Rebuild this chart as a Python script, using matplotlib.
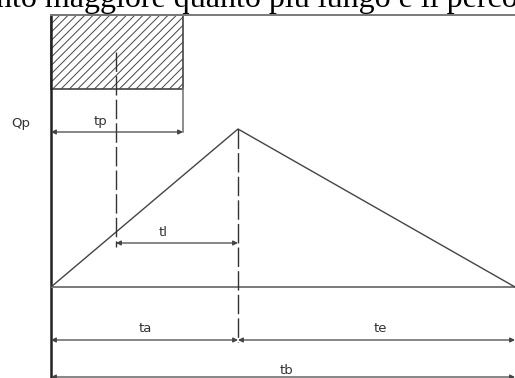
import matplotlib
matplotlib.use("Agg")
import matplotlib.pyplot as plt
from matplotlib.patches import Rectangle

# ── Dati (unità: tempo t, portata q; q=0 sulla linea di base) ────────────────
hydro_t = [0, 187, 464]          # inizio, picco, fine idrogramma
hydro_q = [0, 158, 0]
rain_t = [0, 132]                 # durata pioggia tp
rain_q = [198, 272]               # fascia del pluviogramma
centroid_t = 65                   # baricentro pioggia
labels = ["Qp", "tp", "tl", "ta", "te", "tb"]
label_t = [-30, 49, 112, 94, 329, 236]
label_q = [163, 165, 54, -42, -42, -84]

LINE = "#444444"
GRAY = "#7a7a7a"

plt.rcParams["hatch.linewidth"] = 0.7
plt.rcParams["hatch.color"] = "#555555"

fig = plt.figure(figsize=(5.15, 3.78), dpi=100)
ax = fig.add_axes([0, 0, 1, 1])
ax.set_xlim(-51, 464)
ax.set_ylim(-91, 287)
ax.axis("off")

# testo tagliato in alto (come nell'originale)
ax.text(-55, 280, "nto maggiore quanto più lungo è il perco",
        family="Liberation Serif", fontsize=23, va="baseline", ha="left",
        color="black")

# assi
ax.plot([0, 0], [-91, 272], color="#222222", lw=1.8)
ax.plot([0, 464], [272, 272], color=GRAY, lw=1.4)
ax.plot([0, 464], [0, 0], color=GRAY, lw=1.4)

# pioggia
ax.add_patch(Rectangle((rain_t[0], rain_q[0]), rain_t[1] - rain_t[0],
                       rain_q[1] - rain_q[0], fill=False, hatch="////",
                       edgecolor="#444444", lw=1.2))
ax.plot([rain_t[1], rain_t[1]], [rain_q[0], 155], color=GRAY, lw=1.2)

# idrogramma triangolare
ax.plot(hydro_t, hydro_q, color=LINE, lw=1.0)

# linee tratteggiate
ax.plot([centroid_t, centroid_t], [(rain_q[0] + rain_q[1]) / 2, 40],
        color="#333333", lw=1.0, dashes=(14, 3))
ax.plot([hydro_t[1], hydro_t[1]], [hydro_q[1], -55],
        color="#333333", lw=1.0, dashes=(14, 3))


def dim_arrow(t0, t1, q):
    ax.annotate("", xy=(t1, q), xytext=(t0, q),
                arrowprops=dict(arrowstyle="<|-|>", color=LINE, lw=0.9,
                                mutation_scale=7, shrinkA=0, shrinkB=0))


dim_arrow(0, rain_t[1], 155)
dim_arrow(centroid_t, hydro_t[1], 44)
dim_arrow(0, hydro_t[1], -53)
dim_arrow(hydro_t[1], hydro_t[2], -53)
dim_arrow(0, hydro_t[2], -90)

for lab, t, q in zip(labels, label_t, label_q):
    ax.text(t, q, lab, fontsize=9.5, ha="center", va="center", color="#333333")

fig.savefig("out.png", dpi=100)
